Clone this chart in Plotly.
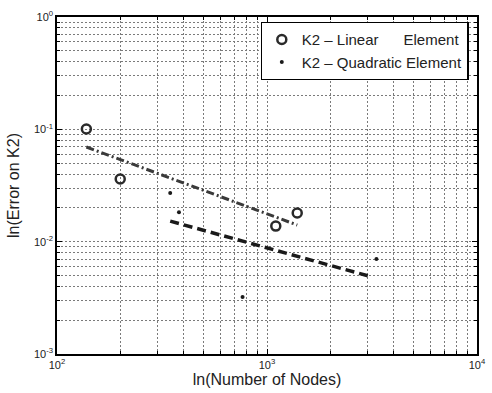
import plotly.graph_objects as go

# Data
lin_nodes = [138, 200, 1101, 1393]
lin_error = [0.1007, 0.0361, 0.01377, 0.0180]

quad_nodes = [346, 381, 765, 3320]
quad_error = [0.0271, 0.0183, 0.00321, 0.0070]

lin_fit_nodes = [138, 1393]
lin_fit_error = [0.0696, 0.01406]

quad_fit_nodes = [346, 3177]
quad_fit_error = [0.01525, 0.00484]

x_tickvals = [100, 1000, 10000]
x_ticktext = ["10<sup>2</sup>", "10<sup>3</sup>", "10<sup>4</sup>"]
y_tickvals = [1e-3, 1e-2, 1e-1, 1]
y_ticktext = ["10<sup>-3</sup>", "10<sup>-2</sup>", "10<sup>-1</sup>", "10<sup>0</sup>"]

x_minor = [m * d for d in [100, 1000] for m in range(2, 10)]
y_minor = [m * d for d in [1e-3, 1e-2, 1e-1] for m in range(2, 10)]

FONT = "Liberation Sans, Arial, sans-serif"
GRID = "#7a7a7a"
GRID_DASH = "1.5px,2.5px"

fig = go.Figure()
fig.add_trace(go.Scatter(
    x=lin_fit_nodes, y=lin_fit_error, mode="lines", showlegend=False,
    line=dict(color="#3a3a3a", width=3, dash="8px,3px,2px,3px")))
fig.add_trace(go.Scatter(
    x=quad_fit_nodes, y=quad_fit_error, mode="lines", showlegend=False,
    line=dict(color="#1a1a1a", width=3.5, dash="9px,5px")))
fig.add_trace(go.Scatter(
    x=lin_nodes, y=lin_error, mode="markers",
    name="K2 \u2013 Linear\u00a0\u00a0\u00a0\u00a0\u00a0\u00a0Element",
    marker=dict(symbol="circle-open", size=9, color="#2a2a2a", line=dict(width=2.5))))
fig.add_trace(go.Scatter(
    x=quad_nodes, y=quad_error, mode="markers",
    name="K2 \u2013 Quadratic Element",
    marker=dict(symbol="circle", size=4, color="#1a1a1a")))


def axis_style(tickvals, ticktext, minorvals):
    return dict(
        type="log", showline=True, linecolor="black", linewidth=1.5, mirror="ticks",
        ticks="inside", ticklen=5, tickcolor="black",
        tickmode="array", tickvals=tickvals, ticktext=ticktext,
        ticklabeloverflow="allow",
        showgrid=True, gridcolor=GRID, gridwidth=1, griddash=GRID_DASH,
        minor=dict(tickmode="array", tickvals=minorvals, showgrid=True,
                   gridcolor=GRID, gridwidth=1, griddash=GRID_DASH,
                   ticks="inside", ticklen=3, tickcolor="black"),
        zeroline=False, tickfont=dict(size=11, color="#222", family=FONT),
    )


fig.update_xaxes(**axis_style(x_tickvals, x_ticktext, x_minor), range=[2, 4],
                 title=dict(text="ln(Number of Nodes)", font=dict(size=16, color="#222", family=FONT),
                            standoff=2))
fig.update_yaxes(**axis_style(y_tickvals, y_ticktext, y_minor), range=[-3, 0],
                 title=dict(text="ln(Error on K2)", font=dict(size=16, color="#222", family=FONT),
                            standoff=10))

fig.update_layout(
    width=492, height=393,
    margin=dict(l=57, r=6, t=17, b=39),
    paper_bgcolor="white", plot_bgcolor="white",
    font=dict(family=FONT, color="#222"),
    legend=dict(x=0.98, y=0.985, xanchor="right", yanchor="top",
                bgcolor="white", bordercolor="black", borderwidth=1.2,
                font=dict(size=15, family=FONT, color="#222"),
                tracegroupgap=0, itemwidth=30),
)

fig.write_html(
    "out.html",
    config={"displayModeBar": False},
    post_script="document.body.style.margin='0';document.body.style.overflow='hidden';",
)
